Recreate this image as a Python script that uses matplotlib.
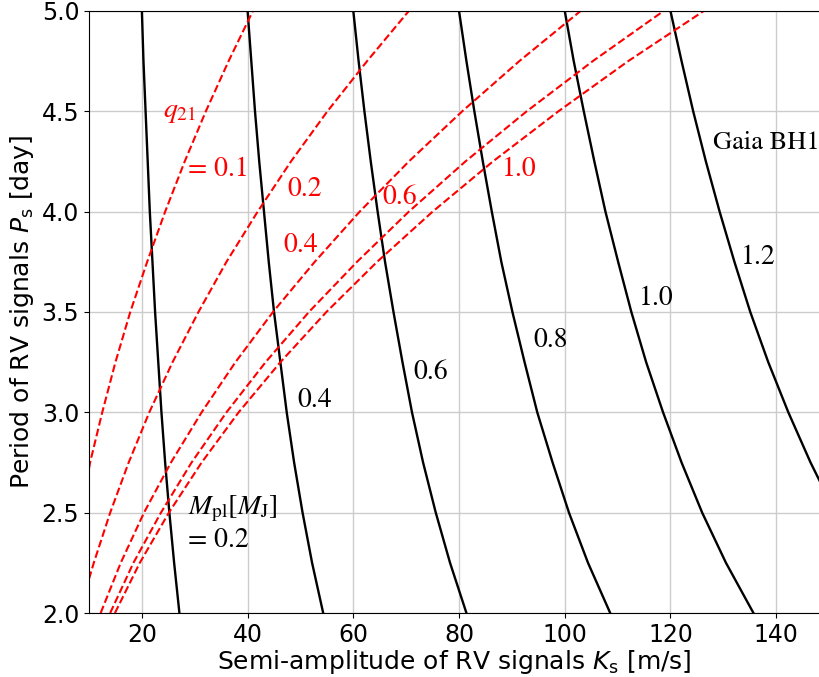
import matplotlib
matplotlib.use("Agg")
import matplotlib.pyplot as plt

period = [2.0, 2.25, 2.5, 2.75, 3.0, 3.25, 3.5, 3.75, 4.0, 4.25, 4.5, 4.75, 5.0]

# Planet mass curves (black), K_s [m/s] at each period
mass_labels = ["0.2", "0.4", "0.6", "0.8", "1.0", "1.2"]
k_m02 = [27.1, 26.1, 25.2, 24.4, 23.7, 23.1, 22.5, 22.0, 21.5, 21.1, 20.7, 20.3, 20.0]
k_m04 = [54.3, 52.2, 50.4, 48.8, 47.4, 46.2, 45.0, 44.0, 43.1, 42.2, 41.4, 40.7, 40.0]
k_m06 = [81.4, 78.3, 75.6, 73.2, 71.1, 69.3, 67.6, 66.0, 64.6, 63.3, 62.1, 61.0, 60.0]
k_m08 = [108.6, 104.4, 100.8, 97.7, 94.8, 92.4, 90.1, 88.0, 86.2, 84.5, 82.9, 81.4, 80.0]
k_m10 = [135.7, 130.5, 126.0, 122.1, 118.6, 115.4, 112.6, 110.1, 107.7, 105.6, 103.6, 101.7, 100.0]
k_m12 = [162.9, 156.6, 151.2, 146.5, 142.3, 138.5, 135.1, 132.1, 129.3, 126.7, 124.3, 122.1, 120.0]

# Mass ratio curves (red dashed)
q_labels = ["0.1", "0.2", "0.4", "0.6", "1.0"]
p_q01 = [2.72, 2.75, 3.0, 3.25, 3.5, 3.75, 4.0, 4.25, 4.5, 4.75, 5.0]
k_q01 = [10.0, 10.2, 12.5, 15.0, 17.8, 21.0, 24.4, 28.1, 32.1, 36.4, 41.0]
p_q02 = [2.17, 2.25, 2.5, 2.75, 3.0, 3.25, 3.5, 3.75, 4.0, 4.25, 4.5, 4.75, 5.0]
k_q02 = [10.0, 10.9, 14.0, 17.5, 21.4, 25.8, 30.7, 36.0, 41.9, 48.2, 55.1, 62.6, 70.5]
k_q04 = [12.2, 16.0, 20.4, 25.5, 31.3, 37.7, 44.8, 52.7, 61.2, 70.5, 80.6, 91.4, 103.0]
k_q06 = [14.0, 18.4, 23.6, 29.4, 36.0, 43.4, 51.6, 60.7, 70.5, 81.2, 92.8, 105.3, 118.7]
k_q10 = [14.9, 19.6, 25.1, 31.3, 38.3, 46.2, 54.9, 64.5, 75.0, 86.4, 98.8, 112.0, 126.3]

fig = plt.figure(figsize=(8.19, 6.77), dpi=100)
ax = fig.add_axes([0.1087, 0.0945, 0.8913, 0.8893])

for k in [k_m02, k_m04, k_m06, k_m08, k_m10, k_m12]:
    ax.plot(k, period, color="black", lw=1.7)

ax.plot(k_q01, p_q01, color="red", ls="--", lw=1.5)
ax.plot(k_q02, p_q02, color="red", ls="--", lw=1.5)
for k in [k_q04, k_q06, k_q10]:
    ax.plot(k, period, color="red", ls="--", lw=1.5)

ax.set_xlim(10, 148.1)
ax.set_ylim(2.0, 5.0)
ax.set_xticks([20, 40, 60, 80, 100, 120, 140])
ax.set_yticks([2.0, 2.5, 3.0, 3.5, 4.0, 4.5, 5.0])
ax.grid(True, color="#cccccc", lw=1)
ax.spines["right"].set_visible(False)
ax.tick_params(labelsize=17)

ax.set_xlabel(r"Semi-amplitude of RV signals $K_{\rm s}$ [m/s]", fontsize=18, labelpad=1)
ax.set_ylabel(r"Period of RV signals $P_{\rm s}$ [day]", fontsize=18, labelpad=4)

# annotations (serif, like the original)
fs = 20
kw = dict(fontsize=fs, family="STIXGeneral", va="center", ha="left")
ax.text(27.2, 4.50, r"$q_{21}$", color="red", ha="center", va="center",
        fontsize=fs, math_fontfamily="stix")
ax.text(28.7, 4.21, "= 0.1", color="red", **kw)
ax.text(47.5, 4.11, "0.2", color="red", **kw)
ax.text(46.7, 3.83, "0.4", color="red", **kw)
ax.text(65.5, 4.07, "0.6", color="red", **kw)
ax.text(88.2, 4.21, "1.0", color="red", **kw)

ax.text(28.7, 2.52, r"$M_{\rm pl}\left[M_{\rm J}\right]$", color="black",
        fontsize=fs, math_fontfamily="stix", va="center", ha="left")
ax.text(28.7, 2.36, "= 0.2", color="black", **kw)
ax.text(49.4, 3.06, "0.4", color="black", **kw)
ax.text(71.3, 3.20, "0.6", color="black", **kw)
ax.text(94.0, 3.36, "0.8", color="black", **kw)
ax.text(114.1, 3.57, "1.0", color="black", **kw)
ax.text(133.4, 3.77, "1.2", color="black", **kw)
ax.text(128.1, 4.34, "Gaia BH1", color="black", fontsize=19,
        family="STIXGeneral", va="center", ha="left")

fig.savefig("out.png", dpi=100)
